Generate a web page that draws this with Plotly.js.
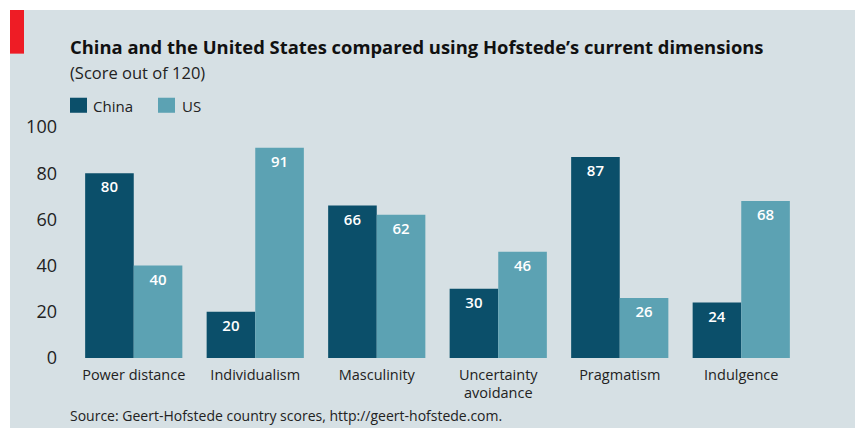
<!DOCTYPE html>
<html>
<head>
<meta charset="utf-8">
<script src="https://cdn.plot.ly/plotly-3.0.1.min.js"></script>
<style>
  html, body { margin: 0; padding: 0; background: #ffffff; width: 857px; height: 428px; overflow: hidden; }
  #chart { position: absolute; left: 10px; top: 10px; width: 845px; height: 418px; }
</style>
</head>
<body>
<div id="chart"></div>
<script>
// ---- Data ----
const categories = ["Power distance", "Individualism", "Masculinity", "Uncertainty<br>avoidance", "Pragmatism", "Indulgence"];
const chinaScores = [80, 20, 66, 30, 87, 24];
const usScores = [40, 91, 62, 46, 26, 68];
const seriesNames = ["China", "US"];
const yTicks = [0, 20, 40, 60, 80, 100];

// ---- Styles ----
const chinaColor = "#0b4f6a";
const usColor = "#5ca2b3";
const bgColor = "#d6e0e4";
const fontFamily = "'Open Sans', 'Noto Sans', sans-serif";

const barText = {family: fontFamily, size: 15, color: "#ffffff", weight: 600};

const traces = [
  {
    type: "bar", name: seriesNames[0], x: categories, y: chinaScores,
    marker: {color: chinaColor},
    text: chinaScores.map(String), textposition: "inside", insidetextanchor: "end",
    textfont: barText, textangle: 0, hoverinfo: "x+y+name"
  },
  {
    type: "bar", name: seriesNames[1], x: categories, y: usScores,
    marker: {color: usColor},
    text: usScores.map(String), textposition: "inside", insidetextanchor: "end",
    textfont: barText, textangle: 0, hoverinfo: "x+y+name"
  }
];

// plot area in div coords: x 63..792, y 117..348
const L = 63, R = 792, T = 117.2, B = 347.7;
const W = R - L, H = B - T;
const px = v => (v - L) / W;
const py = v => (B - v) / H;

const layout = {
  width: 845, height: 418,
  margin: {l: L, r: 845 - R, t: T, b: 418 - B, pad: 0},
  paper_bgcolor: bgColor, plot_bgcolor: bgColor,
  showlegend: false,
  barmode: "group", bargap: 0.2, bargroupgap: 0,
  font: {family: fontFamily, color: "#222222"},
  xaxis: {
    type: "category", showgrid: false, zeroline: false, showline: false, ticks: "",
    tickfont: {family: fontFamily, size: 14.5, color: "#222222"}, ticklabelstandoff: 6, fixedrange: true
  },
  yaxis: {
    range: [0, 100], tickvals: yTicks, showgrid: false, zeroline: false, showline: false, ticks: "",
    tickfont: {family: fontFamily, size: 18, color: "#222222"}, ticklabelstandoff: 15, fixedrange: true
  },
  shapes: [
    {type: "rect", xref: "paper", yref: "paper", x0: px(0), x1: px(14), y0: py(44), y1: py(0),
     fillcolor: "#ee1c25", line: {width: 0}},
    {type: "rect", xref: "paper", yref: "paper", x0: px(60), x1: px(77), y0: py(103), y1: py(88),
     fillcolor: chinaColor, line: {width: 0}},
    {type: "rect", xref: "paper", yref: "paper", x0: px(148), x1: px(165), y0: py(103), y1: py(88),
     fillcolor: usColor, line: {width: 0}}
  ],
  annotations: [
    {xref: "paper", yref: "paper", x: px(58), y: py(37), xanchor: "left", yanchor: "middle", showarrow: false,
     text: "China and the United States compared using Hofstede’s current dimensions",
     font: {family: fontFamily, size: 18.4, color: "#111111", weight: 700}},
    {xref: "paper", yref: "paper", x: px(58), y: py(63), xanchor: "left", yanchor: "middle", showarrow: false,
     text: "(Score out of 120)", font: {family: fontFamily, size: 16.5, color: "#222222"}},
    {xref: "paper", yref: "paper", x: px(81), y: py(96), xanchor: "left", yanchor: "middle", showarrow: false,
     text: seriesNames[0], font: {family: fontFamily, size: 15, color: "#222222"}},
    {xref: "paper", yref: "paper", x: px(170), y: py(96), xanchor: "left", yanchor: "middle", showarrow: false,
     text: seriesNames[1], font: {family: fontFamily, size: 15, color: "#222222"}},
    {xref: "paper", yref: "paper", x: px(58), y: py(405), xanchor: "left", yanchor: "middle", showarrow: false,
     text: "Source: Geert-Hofstede country scores, http://geert-hofstede.com.",
     font: {family: fontFamily, size: 14, color: "#222222"}}
  ]
};

Plotly.newPlot("chart", traces, layout, {displayModeBar: false, staticPlot: true});
</script>
</body>
</html>
